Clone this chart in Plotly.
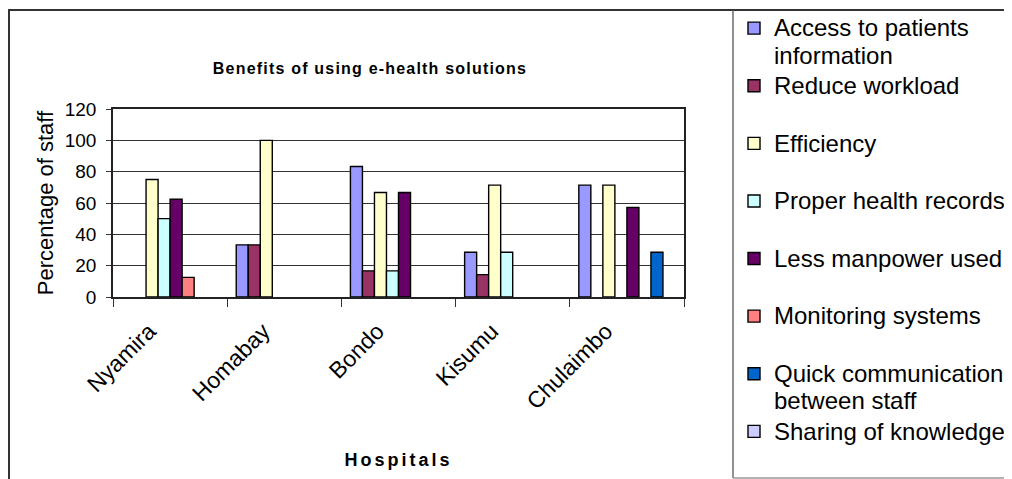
import plotly.graph_objects as go

hospitals = ["Nyamira", "Homabay", "Bondo", "Kisumu", "Chulaimbo"]

access_info = [0, 33.3, 83.3, 28.6, 71.4]
reduce_workload = [0, 33.3, 16.7, 14.3, 0]
efficiency = [75, 100, 66.7, 71.4, 71.4]
proper_records = [50, 0, 16.7, 28.6, 0]
less_manpower = [62.5, 0, 66.7, 0, 57.1]
monitoring = [12.5, 0, 0, 0, 0]
quick_comm = [0, 0, 0, 0, 28.6]
sharing = [0, 0, 0, 0, 0]

series_names = [
    ["Access to patients", "information"],
    ["Reduce workload", " "],
    ["Efficiency", " "],
    ["Proper health records", " "],
    ["Less manpower used", " "],
    ["Monitoring systems", " "],
    ["Quick communication", "between staff"],
    ["Sharing of knowledge", " "],
]
series_values = [access_info, reduce_workload, efficiency, proper_records,
                 less_manpower, monitoring, quick_comm, sharing]
series_colors = ["#9999FF", "#993366", "#FFFFCC", "#CCFFFF",
                 "#660066", "#FF8080", "#0066CC", "#CCCCFF"]

FONT = "Liberation Sans, Arial, sans-serif"


def legend_label(lines):
    return "<br>".join('<span style="font-size:24px">%s</span>' % ln for ln in lines)


fig = go.Figure()
for lines, vals, col in zip(series_names, series_values, series_colors):
    fig.add_trace(go.Bar(
        x=hospitals, y=[v if v else None for v in vals], name=legend_label(lines),
        marker=dict(color=col, line=dict(color="black", width=1.4)),
    ))

# page is offset by 8px body margin; figure coordinates below are screen - 8
W, H = 1004, 471
L, R, T, B = 105, 676, 101, 289


def px_x(x):
    return (x - L) / (R - L)


def px_y(y):
    return (B - y) / (B - T)


fig.update_layout(
    width=W, height=H,
    margin=dict(l=L, r=W - R, t=T, b=H - B, pad=0, autoexpand=False),
    paper_bgcolor="white", plot_bgcolor="white",
    barmode="group", bargap=0.158, bargroupgap=0,
    font=dict(family=FONT, color="black"),
    title=dict(
        text='<span style="letter-spacing:1.2px">Benefits of using e-health solutions</span>',
        font=dict(size=16, family=FONT, color="black", weight="bold"),
        x=362 / W, xanchor="center", y=1 - 60 / H, yanchor="middle",
    ),
    showlegend=True,
    legend=dict(
        x=px_x(726), xanchor="left",
        y=px_y(0), yanchor="top",
        font=dict(size=21, family=FONT, color="black"),
        valign="top", traceorder="normal", tracegroupgap=0,
        bgcolor="rgba(0,0,0,0)", borderwidth=0,
        itemwidth=30, maxheight=900,
    ),
    xaxis=dict(
        type="category", tickson="boundaries", ticks="outside", ticklen=8,
        tickcolor="#333", tickwidth=1.3,
        showline=True, linecolor="#222", linewidth=1.5, mirror=True,
        showgrid=False, tickangle=-45, ticklabelstandoff=10, ticklabelshift=-21,
        tickfont=dict(size=23, color="black"),
        title=dict(text='<span style="letter-spacing:3px">Hospitals</span>',
                   font=dict(size=18, color="black", weight="bold"), standoff=40),
    ),
    yaxis=dict(
        range=[0, 120], dtick=20, ticks="outside", ticklen=5,
        tickcolor="#333", tickwidth=1.3, ticklabelstandoff=6,
        showline=True, linecolor="#222", linewidth=1.5, mirror=True,
        showgrid=True, gridcolor="#333", gridwidth=1, zeroline=False,
        tickfont=dict(size=19, color="black"),
        title=dict(text="Percentage of staff", font=dict(size=22, color="black"), standoff=5),
    ),
    shapes=[
        dict(type="line", xref="paper", yref="paper",
             x0=px_x(0), x1=px_x(W + 5), y0=px_y(2), y1=px_y(2),
             line=dict(color="#333", width=2)),
        dict(type="line", xref="paper", yref="paper",
             x0=px_x(1), x1=px_x(1), y0=px_y(2), y1=px_y(H + 5),
             line=dict(color="#333", width=2)),
        dict(type="line", xref="paper", yref="paper",
             x0=px_x(725), x1=px_x(725), y0=px_y(2), y1=px_y(470),
             line=dict(color="#555", width=1.3)),
        dict(type="line", xref="paper", yref="paper",
             x0=px_x(725), x1=px_x(W + 5), y0=px_y(470), y1=px_y(470),
             line=dict(color="#999", width=1.3)),
    ],
)

fig.write_html("out.html")
